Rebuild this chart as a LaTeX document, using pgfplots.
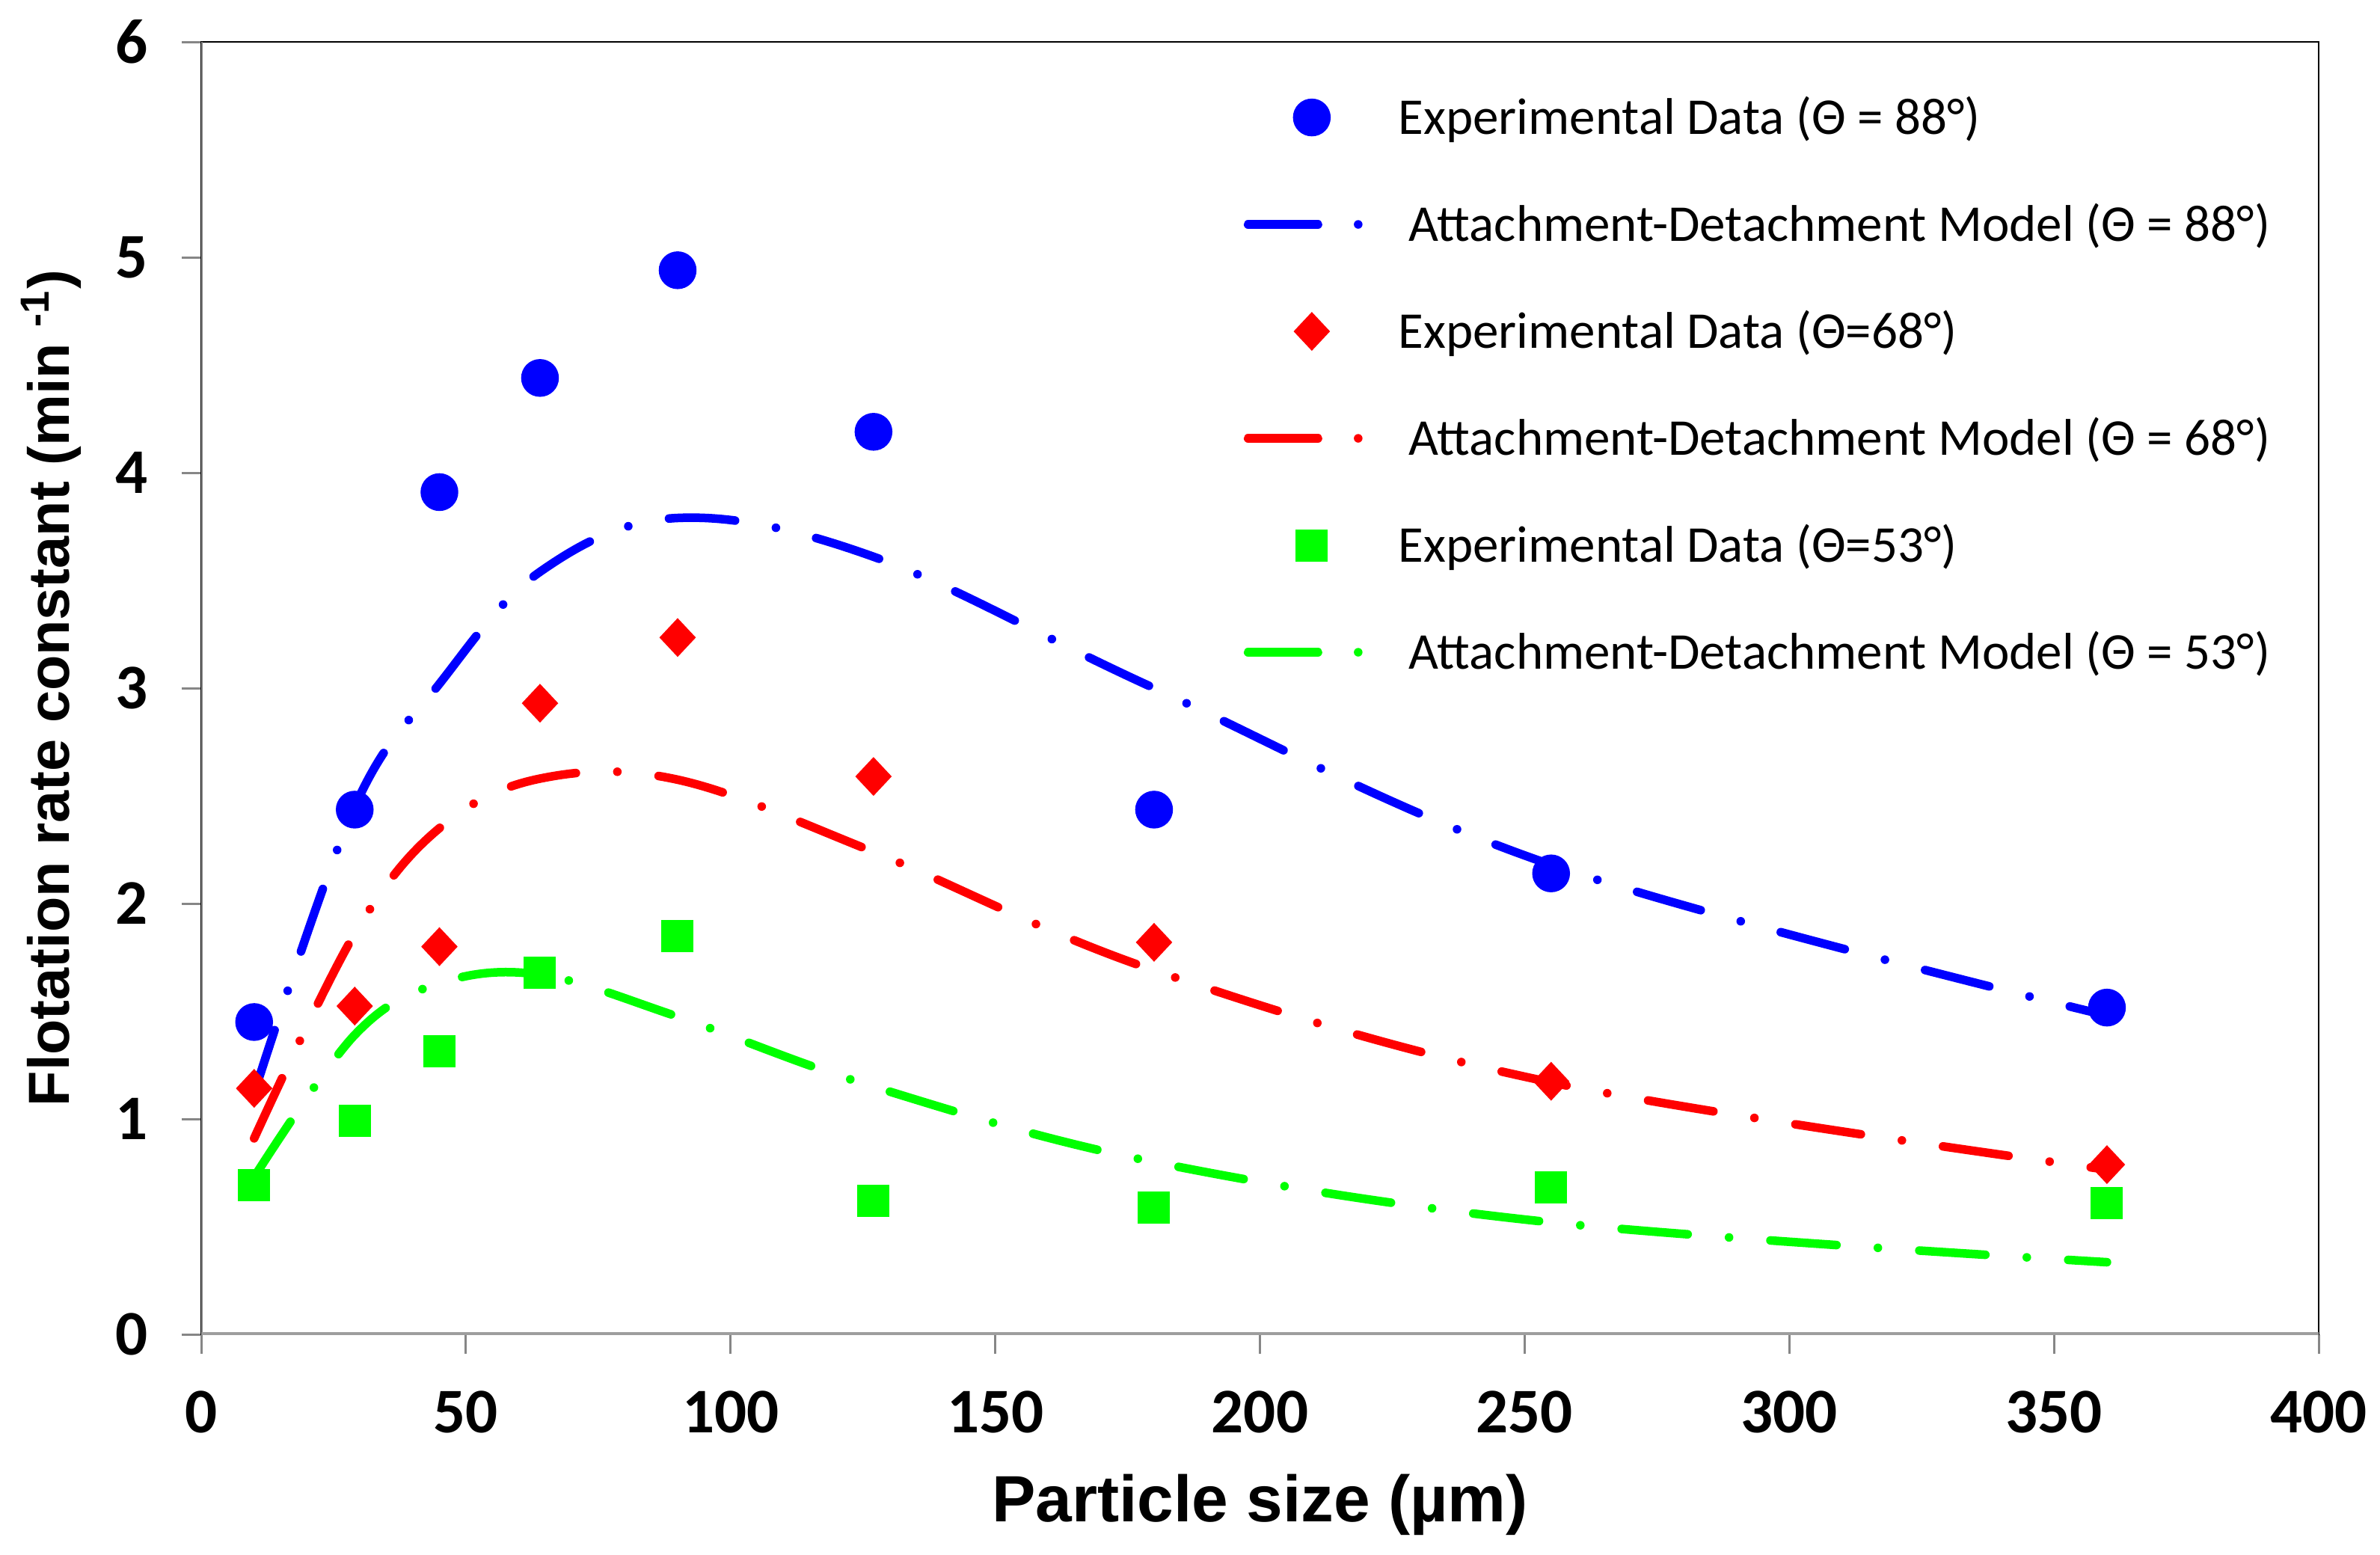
\documentclass[border=0pt]{standalone}
\usepackage{pgfplots}
\usepackage{pgfplotstable}
\pgfplotsset{compat=1.18}
\usepackage{fontspec}
\setmainfont{Carlito}
\newfontfamily\lsans{Liberation Sans}
\definecolor{cblue}{RGB}{0,0,255}
\definecolor{cred}{RGB}{255,0,0}
\definecolor{cgreen}{RGB}{0,255,0}
\definecolor{axgray}{RGB}{134,134,134}

\pgfplotstableread{
x y
10 1.45
29 2.436
45 3.91
64 4.44
90 4.94
127 4.19
180 2.436
255 2.14
360 1.517
}\expA
\pgfplotstableread{
x y
10 1.12
29 2.45
45 3.02
64 3.54
90 3.79
127 3.61
180 3.00
255 2.18
360 1.48
}\modA
\pgfplotstableread{
x y
10 1.142
29 1.524
45 1.80
64 2.93
90 3.235
127 2.59
180 1.82
255 1.175
360 0.788
}\expB
\pgfplotstableread{
x y
10 0.91
29 1.86
45 2.35
64 2.58
90 2.575
127 2.24
180 1.69
255 1.17
360 0.765
}\modB
\pgfplotstableread{
x y
10 0.693
29 0.99
45 1.314
64 1.679
90 1.85
127 0.621
180 0.59
255 0.681
360 0.609
}\expC
\pgfplotstableread{
x y
10 0.73
29 1.39
45 1.63
64 1.67
90 1.475
127 1.15
180 0.80
255 0.52
360 0.335
}\modC

\tikzset{
  modelline/.style={line width=2.3pt, line cap=round, line join=round,
    dash pattern=on 17.7pt off 11.1pt on 0pt off 11.1pt, smooth, tension=0.6},
}
\pgfplotsset{
  markleg/.style={legend image code/.code={%
    \path[draw=none, fill=none] (0pt,-5pt) rectangle (31pt,5pt);
    \draw[##1] plot coordinates {(18.2pt,0pt)};}},
  lineleg/.style={legend image code/.code={%
    \path[draw=none, fill=none] (0pt,-5pt) rectangle (31pt,5pt);
    \draw[##1, dash pattern=on 18.7pt off 10.75pt on 0pt off 20pt] (1.15pt,0pt) -- (31pt,0pt);}},
}

\begin{document}
\begin{tikzpicture}
\path[use as bounding box] (-53.8pt,-58.8pt) rectangle (582.6pt,356.8pt);
\begin{axis}[
  scale only axis,
  width=566.2pt, height=345.6pt,
  xmin=0, xmax=400, ymin=0, ymax=6,
  xtick={0,50,...,400}, ytick={0,1,...,6},
  tick align=outside,
  xtick pos=left, ytick pos=left,
  major tick length=5.2pt,
  every tick/.style={axgray, line width=0.6pt},
  axis line style={black, line width=0.5pt},
  /pgf/number format/assume math mode=true,
  ticklabel style={font=\fontsize{17}{17}\selectfont\bfseries},
  xticklabel style={yshift=-6.5pt},
  yticklabel style={xshift=-5.6pt},
  xlabel={\lsans\bfseries\fontsize{17.5}{17.5}\selectfont Particle size (µm)},
  ylabel={\lsans\bfseries\fontsize{15.5}{15.5}\selectfont Flotation rate constant (min \textsuperscript{-1})},
  xlabel style={at={(axis description cs:0.5,-0.1447)}, anchor=base},
  ylabel style={at={(axis description cs:-0.0625,0.5)}, anchor=base},
  legend cell align=left,
  legend style={at={(axis description cs:0.492,1)}, anchor=north west, yshift=-15pt,
    draw=none, fill=none, inner sep=0pt, row sep=18.6pt, column sep=9.2pt,
    font=\fontsize{13.8}{13.8}\selectfont,
    nodes={inner sep=0pt, text height=8.9pt, text depth=0pt, anchor=west}},
]
\addplot[only marks, mark=*, mark size=4.85pt, color=cblue, mark options={draw=cblue, fill=cblue}, markleg] table[x=x,y=y] {\expA};
\addlegendentry{Experimental Data (Θ = 88°)}
\addplot[cblue, modelline, no markers, lineleg] table[x=x,y=y] {\modA};
\addlegendentry{\kern2.8pt Attachment-Detachment Model (Θ = 88°)}
\addplot[only marks, mark=diamond*, mark size=4.9pt, color=cred, mark options={draw=cred, fill=cred, xscale=1.25}, markleg] table[x=x,y=y] {\expB};
\addlegendentry{Experimental Data (Θ=68°)}
\addplot[cred, modelline, no markers, lineleg] table[x=x,y=y] {\modB};
\addlegendentry{\kern2.8pt Attachment-Detachment Model (Θ = 68°)}
\addplot[only marks, mark=square*, mark size=4.1pt, color=cgreen, mark options={draw=cgreen, fill=cgreen}, markleg] table[x=x,y=y] {\expC};
\addlegendentry{Experimental Data (Θ=53°)}
\addplot[cgreen, modelline, no markers, lineleg] table[x=x,y=y] {\modC};
\addlegendentry{\kern2.8pt Attachment-Detachment Model (Θ = 53°)}
\draw[axgray, line width=0.6pt] (rel axis cs:0,0) -- (rel axis cs:0,1);
\draw[axgray!80, line width=1.1pt] (rel axis cs:0,0) -- (rel axis cs:1,0);
\end{axis}
\end{tikzpicture}
\end{document}
